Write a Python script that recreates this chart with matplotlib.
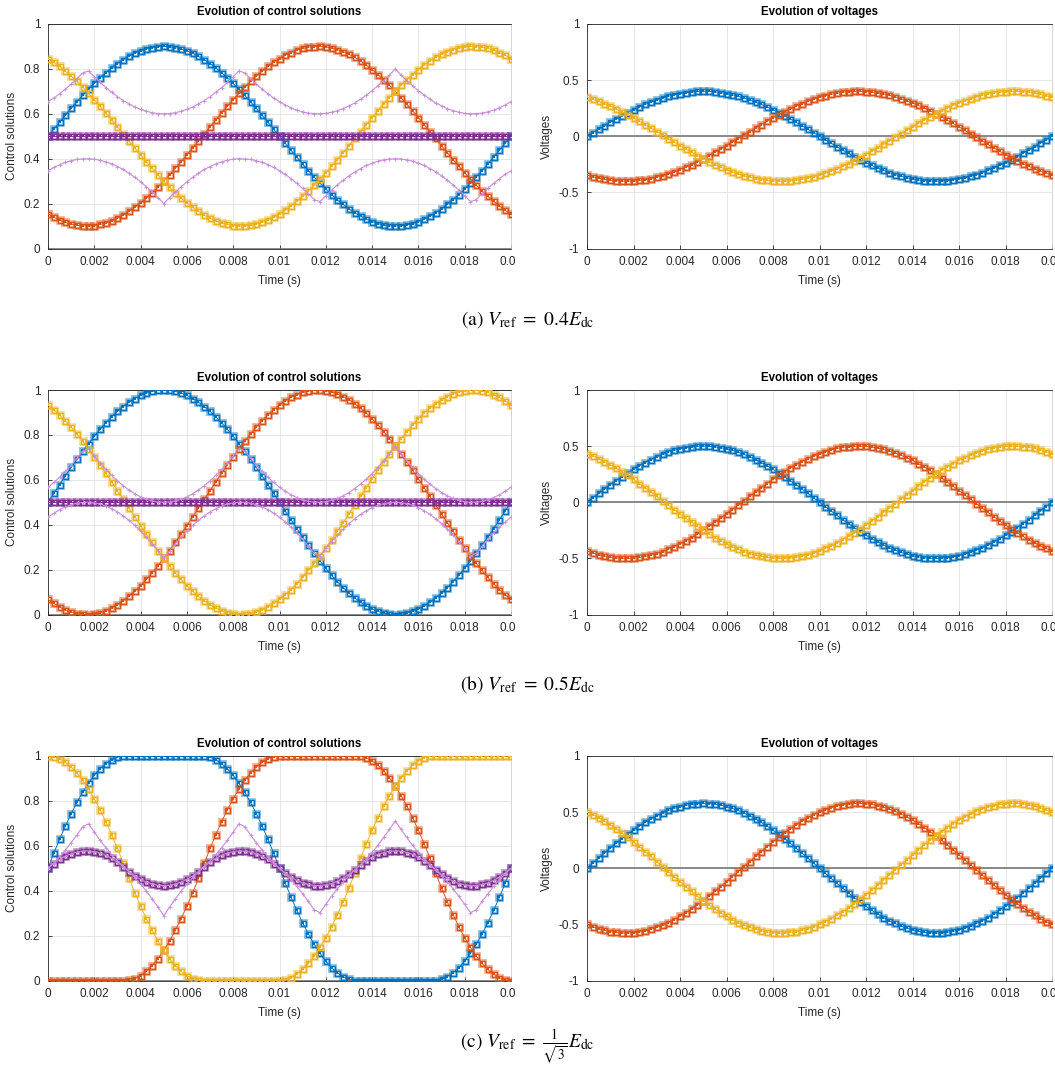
import numpy as np
import matplotlib
matplotlib.use("Agg")
import matplotlib.pyplot as plt
from matplotlib.transforms import Bbox, TransformedBbox

plt.rcParams['font.family'] = ['Liberation Sans', 'DejaVu Sans']
plt.rcParams['mathtext.fontset'] = 'stix'

# time samples (Ts = 0.25 ms, one period of 50 Hz)
t = np.linspace(0, 0.02, 81)

# ---- (a) Vref = 0.4 Edc ----
va_a = [0, .031, .063, .093, .124, .153, .182, .209, .235, .260, .283, .304, .324, .341, .356, .370, .380, .389, .395, .399, .400,
        .399, .395, .389, .380, .370, .356, .341, .324, .304, .283, .260, .235, .209, .182, .153, .124, .093, .063, .031, 0,
        -.031, -.063, -.093, -.124, -.153, -.182, -.209, -.235, -.260, -.283, -.304, -.324, -.341, -.356, -.370, -.380, -.389, -.395, -.399, -.400,
        -.399, -.395, -.389, -.380, -.370, -.356, -.341, -.324, -.304, -.283, -.260, -.235, -.209, -.182, -.153, -.124, -.093, -.063, -.031, 0]
vb_a = [-.346, -.361, -.373, -.384, -.391, -.397, -.399, -.400, -.398, -.393, -.386, -.377, -.365, -.352, -.335, -.317, -.297, -.275, -.252, -.227, -.200,
        -.172, -.143, -.114, -.083, -.052, -.021, .010, .042, .073, .104, .134, .163, .191, .218, .244, .268, .290, .311, .330, .346,
        .361, .373, .384, .391, .397, .399, .400, .398, .393, .386, .377, .365, .352, .335, .317, .297, .275, .252, .227, .200,
        .172, .143, .114, .083, .052, .021, -.010, -.042, -.073, -.104, -.134, -.163, -.191, -.218, -.244, -.268, -.290, -.311, -.330, -.346]
vc_a = [.346, .330, .311, .290, .268, .244, .218, .191, .163, .134, .104, .073, .042, .010, -.021, -.052, -.083, -.114, -.143, -.172, -.200,
        -.227, -.252, -.275, -.297, -.317, -.335, -.352, -.365, -.377, -.386, -.393, -.398, -.400, -.399, -.397, -.391, -.384, -.373, -.361, -.346,
        -.330, -.311, -.290, -.268, -.244, -.218, -.191, -.163, -.134, -.104, -.073, -.042, -.010, .021, .052, .083, .114, .143, .172, .200,
        .227, .252, .275, .297, .317, .335, .352, .365, .377, .386, .393, .398, .400, .399, .397, .391, .384, .373, .361, .346]
ua_a = [.500, .531, .563, .593, .624, .653, .682, .709, .735, .760, .783, .804, .824, .841, .856, .870, .880, .889, .895, .899, .900,
        .899, .895, .889, .880, .870, .856, .841, .824, .804, .783, .760, .735, .709, .682, .653, .624, .593, .563, .531, .500,
        .469, .437, .407, .376, .347, .318, .291, .265, .240, .217, .196, .176, .159, .144, .130, .120, .111, .105, .101, .100,
        .101, .105, .111, .120, .130, .144, .159, .176, .196, .217, .240, .265, .291, .318, .347, .376, .407, .437, .469, .500]
ub_a = [.154, .139, .127, .116, .109, .103, .101, .100, .102, .107, .114, .123, .135, .148, .165, .183, .203, .225, .248, .273, .300,
        .328, .357, .386, .417, .448, .479, .510, .542, .573, .604, .634, .663, .691, .718, .744, .768, .790, .811, .830, .846,
        .861, .873, .884, .891, .897, .899, .900, .898, .893, .886, .877, .865, .852, .835, .817, .797, .775, .752, .727, .700,
        .672, .643, .614, .583, .552, .521, .490, .458, .427, .396, .366, .337, .309, .282, .256, .232, .210, .189, .170, .154]
uc_a = [.846, .830, .811, .790, .768, .744, .718, .691, .663, .634, .604, .573, .542, .510, .479, .448, .417, .386, .357, .328, .300,
        .273, .248, .225, .203, .183, .165, .148, .135, .123, .114, .107, .102, .100, .101, .103, .109, .116, .127, .139, .154,
        .170, .189, .210, .232, .256, .282, .309, .337, .366, .396, .427, .458, .490, .521, .552, .583, .614, .643, .672, .700,
        .727, .752, .775, .797, .817, .835, .852, .865, .877, .886, .893, .898, .900, .899, .897, .891, .884, .873, .861, .846]
z_a = [0.5] * 81
lo_a = [.346, .361, .373, .384, .391, .397, .399, .400, .398, .393, .386, .377, .365, .352, .335, .317, .297, .275, .252, .227, .200,
        .227, .252, .275, .297, .317, .335, .352, .365, .377, .386, .393, .398, .400, .399, .397, .391, .384, .373, .361, .346,
        .330, .311, .290, .268, .244, .218, .209, .235, .260, .283, .304, .324, .341, .356, .370, .380, .389, .395, .399, .400,
        .399, .395, .389, .380, .370, .356, .341, .324, .304, .283, .260, .235, .209, .218, .244, .268, .290, .311, .330, .346]
hi_a = [.654, .670, .689, .710, .732, .756, .782, .791, .765, .740, .717, .696, .676, .659, .644, .630, .620, .611, .605, .601, .600,
        .601, .605, .611, .620, .630, .644, .659, .676, .696, .717, .740, .765, .791, .782, .756, .732, .710, .689, .670, .654,
        .639, .627, .616, .609, .603, .601, .600, .602, .607, .614, .623, .635, .648, .665, .683, .703, .725, .748, .773, .800,
        .773, .748, .725, .703, .683, .665, .648, .635, .623, .614, .607, .602, .600, .601, .603, .609, .616, .627, .639, .654]

# ---- (b) Vref = 0.5 Edc ----
va_b = [0, .039, .078, .117, .155, .191, .227, .261, .294, .325, .354, .380, .405, .426, .446, .462, .476, .486, .494, .498, .500,
        .498, .494, .486, .476, .462, .446, .426, .405, .380, .354, .325, .294, .261, .227, .191, .155, .117, .078, .039, 0,
        -.039, -.078, -.117, -.155, -.191, -.227, -.261, -.294, -.325, -.354, -.380, -.405, -.426, -.446, -.462, -.476, -.486, -.494, -.498, -.500,
        -.498, -.494, -.486, -.476, -.462, -.446, -.426, -.405, -.380, -.354, -.325, -.294, -.261, -.227, -.191, -.155, -.117, -.078, -.039, 0]
vb_b = [-.433, -.451, -.467, -.479, -.489, -.496, -.499, -.500, -.497, -.492, -.483, -.471, -.457, -.439, -.419, -.397, -.372, -.344, -.315, -.283, -.250,
        -.215, -.179, -.142, -.104, -.065, -.026, .013, .052, .091, .129, .167, .203, .239, .272, .304, .335, .363, .389, .412, .433,
        .451, .467, .479, .489, .496, .499, .500, .497, .492, .483, .471, .457, .439, .419, .397, .372, .344, .315, .283, .250,
        .215, .179, .142, .104, .065, .026, -.013, -.052, -.091, -.129, -.167, -.203, -.239, -.272, -.304, -.335, -.363, -.389, -.412, -.433]
vc_b = [.433, .412, .389, .363, .335, .304, .272, .239, .203, .167, .129, .091, .052, .013, -.026, -.065, -.104, -.142, -.179, -.215, -.250,
        -.283, -.315, -.344, -.372, -.397, -.419, -.439, -.457, -.471, -.483, -.492, -.497, -.500, -.499, -.496, -.489, -.479, -.467, -.451, -.433,
        -.412, -.389, -.363, -.335, -.304, -.272, -.239, -.203, -.167, -.129, -.091, -.052, -.013, .026, .065, .104, .142, .179, .215, .250,
        .283, .315, .344, .372, .397, .419, .439, .457, .471, .483, .492, .497, .500, .499, .496, .489, .479, .467, .451, .433]
ua_b = [.500, .539, .578, .617, .655, .691, .727, .761, .794, .825, .854, .880, .905, .926, .946, .962, .976, .986, .994, .998, 1.0,
        .998, .994, .986, .976, .962, .946, .926, .905, .880, .854, .825, .794, .761, .727, .691, .655, .617, .578, .539, .500,
        .461, .422, .383, .345, .309, .273, .239, .206, .175, .146, .120, .095, .074, .054, .038, .024, .014, .006, .002, 0,
        .002, .006, .014, .024, .038, .054, .074, .095, .120, .146, .175, .206, .239, .273, .309, .345, .383, .422, .461, .500]
ub_b = [.067, .049, .033, .021, .011, .004, .001, 0, .003, .008, .017, .029, .043, .061, .081, .103, .128, .156, .185, .217, .250,
        .285, .321, .358, .396, .435, .474, .513, .552, .591, .629, .667, .703, .739, .772, .804, .835, .863, .889, .912, .933,
        .951, .967, .979, .989, .996, .999, 1.0, .997, .992, .983, .971, .957, .939, .919, .897, .872, .844, .815, .783, .750,
        .715, .679, .642, .604, .565, .526, .487, .448, .409, .371, .333, .297, .261, .228, .196, .165, .137, .111, .088, .067]
uc_b = [.933, .912, .889, .863, .835, .804, .772, .739, .703, .667, .629, .591, .552, .513, .474, .435, .396, .358, .321, .285, .250,
        .217, .185, .156, .128, .103, .081, .061, .043, .029, .017, .008, .003, 0, .001, .004, .011, .021, .033, .049, .067,
        .088, .111, .137, .165, .196, .228, .261, .297, .333, .371, .409, .448, .487, .526, .565, .604, .642, .679, .715, .750,
        .783, .815, .844, .872, .897, .919, .939, .957, .971, .983, .992, .997, 1.0, .999, .996, .989, .979, .967, .951, .933]
z_b = [0.5] * 81
lo_b = [.433, .451, .467, .479, .489, .496, .499, .500, .497, .492, .483, .471, .457, .439, .419, .397, .372, .344, .315, .283, .250,
        .283, .315, .344, .372, .397, .419, .439, .457, .471, .483, .492, .497, .500, .499, .496, .489, .479, .467, .451, .433,
        .412, .389, .363, .335, .304, .272, .261, .294, .325, .354, .380, .405, .426, .446, .462, .476, .486, .494, .498, .500,
        .498, .494, .486, .476, .462, .446, .426, .405, .380, .354, .325, .294, .261, .272, .304, .335, .363, .389, .412, .433]
hi_b = [.567, .588, .611, .637, .665, .696, .728, .739, .706, .675, .646, .620, .595, .574, .554, .538, .524, .514, .506, .502, .500,
        .502, .506, .514, .524, .538, .554, .574, .595, .620, .646, .675, .706, .739, .728, .696, .665, .637, .611, .588, .567,
        .549, .533, .521, .511, .504, .501, .500, .503, .508, .517, .529, .543, .561, .581, .603, .628, .656, .685, .717, .750,
        .717, .685, .656, .628, .603, .581, .561, .543, .529, .517, .508, .503, .500, .501, .504, .511, .521, .533, .549, .567]

# ---- (c) Vref = Edc / sqrt(3) ----
va_c = [0, .045, .090, .135, .178, .221, .262, .302, .339, .375, .408, .439, .467, .492, .515, .534, .549, .562, .570, .576, .577,
        .576, .570, .562, .549, .534, .515, .492, .467, .439, .408, .375, .339, .302, .262, .221, .178, .135, .090, .045, 0,
        -.045, -.090, -.135, -.178, -.221, -.262, -.302, -.339, -.375, -.408, -.439, -.467, -.492, -.515, -.534, -.549, -.562, -.570, -.576, -.577,
        -.576, -.570, -.562, -.549, -.534, -.515, -.492, -.467, -.439, -.408, -.375, -.339, -.302, -.262, -.221, -.178, -.135, -.090, -.045, 0]
vb_c = [-.500, -.521, -.539, -.554, -.565, -.572, -.577, -.577, -.574, -.568, -.558, -.544, -.527, -.507, -.484, -.458, -.429, -.398, -.363, -.327, -.289,
        -.249, -.207, -.164, -.120, -.075, -.030, .015, .060, .105, .149, .193, .235, .276, .315, .352, .386, .419, .449, .476, .500,
        .521, .539, .554, .565, .572, .577, .577, .574, .568, .558, .544, .527, .507, .484, .458, .429, .398, .363, .327, .289,
        .249, .207, .164, .120, .075, .030, -.015, -.060, -.105, -.149, -.193, -.235, -.276, -.315, -.352, -.386, -.419, -.449, -.476, -.500]
vc_c = [.500, .476, .449, .419, .386, .352, .315, .276, .235, .193, .149, .105, .060, .015, -.030, -.075, -.120, -.164, -.207, -.249, -.289,
        -.327, -.363, -.398, -.429, -.458, -.484, -.507, -.527, -.544, -.558, -.568, -.574, -.577, -.577, -.572, -.565, -.554, -.539, -.521, -.500,
        -.476, -.449, -.419, -.386, -.352, -.315, -.276, -.235, -.193, -.149, -.105, -.060, -.015, .030, .075, .120, .164, .207, .249, .289,
        .327, .363, .398, .429, .458, .484, .507, .527, .544, .558, .568, .574, .577, .577, .572, .565, .554, .539, .521, .500]
ua_c = [.500, .567, .629, .688, .743, .793, .839, .879, .914, .943, .966, .983, .995, 1.0, 1.0, 1.0, 1.0, 1.0, 1.0, 1.0, 1.0,
        1.0, 1.0, 1.0, 1.0, 1.0, 1.0, 1.0, .995, .983, .966, .943, .914, .879, .839, .793, .743, .688, .629, .567, .500,
        .433, .371, .312, .257, .207, .161, .121, .086, .057, .034, .017, .005, 0, 0, 0, 0, 0, 0, 0, 0,
        0, 0, 0, 0, 0, 0, 0, .005, .017, .034, .057, .086, .121, .161, .207, .257, .312, .371, .433, .500]
ub_c = [0, 0, 0, 0, 0, 0, 0, 0, 0, 0, 0, 0, 0, 0, .001, .008, .022, .041, .066, .097, .134,
        .176, .223, .275, .331, .391, .455, .523, .588, .650, .707, .761, .809, .853, .891, .924, .951, .972, .988, .997, 1.0,
        1.0, 1.0, 1.0, 1.0, 1.0, 1.0, 1.0, 1.0, 1.0, 1.0, 1.0, 1.0, 1.0, .999, .992, .978, .959, .934, .903, .866,
        .824, .777, .725, .669, .609, .545, .477, .412, .350, .293, .239, .191, .147, .109, .076, .049, .028, .012, .003, 0]
uc_c = [1.0, .997, .988, .972, .951, .924, .891, .853, .809, .761, .707, .650, .588, .523, .455, .391, .331, .275, .223, .176, .134,
        .097, .066, .041, .022, .008, .001, 0, 0, 0, 0, 0, 0, 0, 0, 0, 0, 0, 0, 0, 0,
        .003, .012, .028, .049, .076, .109, .147, .191, .239, .293, .350, .412, .477, .545, .609, .669, .725, .777, .824, .866,
        .903, .934, .959, .978, .992, .999, 1.0, 1.0, 1.0, 1.0, 1.0, 1.0, 1.0, 1.0, 1.0, 1.0, 1.0, 1.0, 1.0, 1.0]
z_c = [.500, .521, .539, .554, .565, .572, .577, .577, .574, .568, .558, .544, .527, .507, .485, .466, .451, .438, .430, .424, .423,
       .424, .430, .438, .451, .466, .485, .507, .527, .544, .558, .568, .574, .577, .577, .572, .565, .554, .539, .521, .500,
       .479, .461, .446, .435, .428, .423, .423, .426, .432, .442, .456, .473, .493, .515, .534, .549, .562, .570, .576, .577,
       .576, .570, .562, .549, .534, .515, .493, .473, .456, .442, .432, .426, .423, .423, .428, .435, .446, .461, .479, .500]
lo_c = [.500, .521, .539, .554, .565, .572, .577, .577, .574, .568, .558, .544, .527, .507, .484, .458, .429, .398, .363, .327, .289,
        .327, .363, .398, .429, .458, .484, .507, .527, .544, .558, .568, .574, .577, .577, .572, .565, .554, .539, .521, .500,
        .476, .449, .419, .386, .352, .315, .302, .339, .375, .408, .439, .467, .492, .515, .534, .549, .562, .570, .576, .577,
        .576, .570, .562, .549, .534, .515, .492, .467, .439, .408, .375, .339, .302, .315, .352, .386, .419, .449, .476, .500]
hi_c = [.500, .524, .551, .581, .614, .648, .685, .698, .661, .625, .592, .561, .533, .508, .485, .466, .451, .438, .430, .424, .423,
        .424, .430, .438, .451, .466, .485, .508, .533, .561, .592, .625, .661, .698, .685, .648, .614, .581, .551, .524, .500,
        .479, .461, .446, .435, .428, .423, .423, .426, .432, .442, .456, .473, .493, .516, .542, .571, .602, .637, .673, .711,
        .673, .637, .602, .571, .542, .516, .493, .473, .456, .442, .432, .426, .423, .423, .428, .435, .446, .461, .479, .500]

captions = [r"(a) $V_{\mathrm{ref}}\ =\ 0.4E_{\mathrm{dc}}$",
            r"(b) $V_{\mathrm{ref}}\ =\ 0.5E_{\mathrm{dc}}$",
            r"(c) $V_{\mathrm{ref}}\ =\ \frac{1}{\sqrt{3}}E_{\mathrm{dc}}$"]

xticks = [0, 0.002, 0.004, 0.006, 0.008, 0.01, 0.012, 0.014, 0.016, 0.018, 0.02]
xlabels = ['0', '0.002', '0.004', '0.006', '0.008', '0.01', '0.012', '0.014', '0.016', '0.018', '0.02']

blue, red, yellow, purple, lilac = '#0072BD', '#D95319', '#EDB120', '#7E2F8E', '#C98BDB'
dark = '#262626'

W, H = 1055, 1074
fig = plt.figure(figsize=(W / 100, H / 100), dpi=100)


def series(ax, y, c):
    ax.plot(t, y, '-', color=c, lw=0.7, zorder=3)
    ax.plot(t, y, ls='none', marker='s', ms=5.0, mfc='none', mec=c, mew=1.9, alpha=0.5, zorder=3)
    ax.plot(t, y, ls='none', marker='s', ms=3.6, mfc='none', mec=c, mew=0.9, zorder=3)
    ax.plot(t, y, ls='none', marker='s', ms=1.5, mfc=c, mec=c, mew=0, zorder=3)


def style(ax, yt, ylab, title, clip_right=None):
    ax.set_xlim(0, 0.02)
    ax.set_xticks(xticks)
    ax.set_xticklabels(xlabels)
    ax.set_yticks(yt)
    ax.set_yticklabels(['%g' % v for v in yt])
    ax.grid(True, color='#e2e2e2', lw=0.6)
    ax.set_axisbelow(True)
    ax.tick_params(direction='in', length=3, width=0.6, colors=dark, labelsize=8.5, pad=5.5)
    for s in ax.spines.values():
        s.set_color(dark)
        s.set_linewidth(0.6)
    ax.spines['right'].set_color('#d0d0d0')
    ax.set_xlabel('Time (s)', fontsize=8.5, color=dark, labelpad=5)
    ax.set_ylabel(ylab, fontsize=8.5, color=dark, labelpad=4)
    ax.set_title(title, fontsize=8.3, fontweight='bold', color='black', pad=6.5)
    if clip_right is not None:
        box = TransformedBbox(Bbox([[0, 0], [clip_right, 1]]), fig.transFigure)
        for lab in ax.get_xticklabels():
            lab.set_clip_box(box)
            lab.set_clip_on(True)


rows = [
    (va_a, vb_a, vc_a, ua_a, ub_a, uc_a, z_a, lo_a, hi_a),
    (va_b, vb_b, vc_b, ua_b, ub_b, uc_b, z_b, lo_b, hi_b),
    (va_c, vb_c, vc_c, ua_c, ub_c, uc_c, z_c, lo_c, hi_c),
]
tops = [24, 390, 756]
cap_y = [320, 685, 1047]

for i, (va, vb, vc, ua, ub, uc, z, lo, hi) in enumerate(rows):
    top = tops[i]
    bottom = 1 - (top + 224.5) / H
    h = 224.5 / H
    axl = fig.add_axes([48 / W, bottom, 463 / W, h])
    axr = fig.add_axes([587 / W, bottom, 465 / W, h])

    # control solutions
    axl.axhline(0, color='#7f7f7f', lw=1.3, zorder=2)
    axl.axhline(1, color='#7f7f7f', lw=1.3, zorder=2)
    series(axl, ua, blue)
    series(axl, ub, red)
    series(axl, uc, yellow)
    series(axl, z, purple)
    axl.plot(t, lo, '-', color=lilac, lw=0.8, marker='+', ms=2.8, mew=0.6, zorder=4)
    axl.plot(t, hi, '-', color=lilac, lw=0.8, marker='+', ms=2.8, mew=0.6, zorder=4)
    axl.set_ylim(0, 1)
    style(axl, [0, 0.2, 0.4, 0.6, 0.8, 1], 'Control solutions',
          'Evolution of control solutions', clip_right=515 / W)

    # voltages
    axr.axhline(0, color='#7f7f7f', lw=1.3, zorder=2)
    series(axr, va, blue)
    series(axr, vb, red)
    series(axr, vc, yellow)
    axr.set_ylim(-1, 1)
    style(axr, [-1, -0.5, 0, 0.5, 1], 'Voltages', 'Evolution of voltages')

    fig.text(0.5, 1 - cap_y[i] / H, captions[i], ha='center', va='center',
             fontsize=14, family='STIXGeneral')

fig.savefig('out.png', dpi=100)
